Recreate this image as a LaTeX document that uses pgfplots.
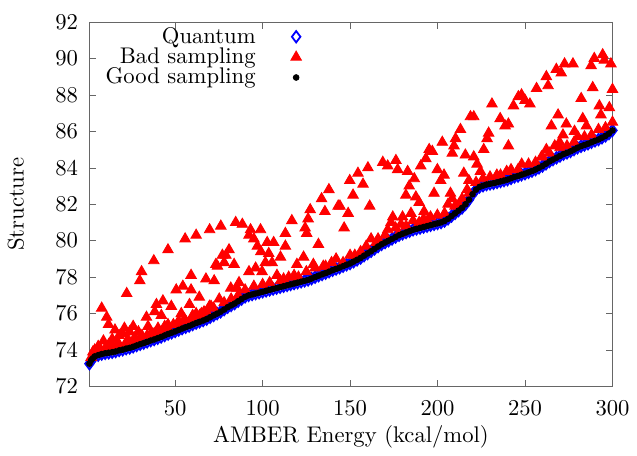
\documentclass[border=0pt]{standalone}
\usepackage{pgfplots}
\pgfplotsset{compat=1.18}
\usepackage{pgfplotstable}

% quantum / good sampling curve
\pgfplotstableread{
x y
1 73.25
2 73.45
3 73.55
4 73.65
6 73.72
8 73.78
10 73.82
12 73.85
14 73.88
16 73.92
18 73.98
20 74.02
22 74.08
24 74.12
26 74.18
28 74.25
30 74.32
32 74.38
34 74.45
36 74.52
38 74.58
40 74.65
42 74.72
44 74.80
46 74.88
48 74.95
50 75.02
52 75.10
54 75.18
56 75.25
58 75.32
60 75.40
62 75.48
64 75.55
66 75.62
68 75.70
70 75.80
72 75.90
74 76.00
76 76.10
78 76.22
80 76.35
82 76.45
84 76.55
86 76.68
88 76.80
90 76.92
92 77.00
94 77.05
96 77.10
98 77.15
100 77.20
102 77.25
104 77.30
106 77.35
108 77.40
110 77.45
112 77.50
114 77.55
116 77.60
118 77.65
120 77.70
122 77.75
124 77.80
126 77.85
128 77.92
130 78.00
132 78.08
134 78.15
136 78.22
138 78.30
140 78.38
142 78.45
144 78.52
146 78.60
148 78.68
150 78.75
152 78.85
154 78.95
156 79.05
158 79.18
160 79.30
162 79.42
164 79.55
166 79.68
168 79.80
170 79.90
172 80.00
174 80.10
176 80.20
178 80.30
180 80.38
182 80.45
184 80.52
186 80.60
188 80.65
190 80.70
192 80.75
194 80.80
196 80.85
198 80.90
200 80.95
202 81.00
204 81.08
206 81.20
208 81.35
210 81.50
212 81.65
214 81.80
216 82.00
218 82.25
220 82.55
222 82.80
224 82.95
226 83.02
228 83.08
230 83.12
232 83.15
234 83.20
236 83.25
238 83.30
240 83.35
242 83.42
244 83.50
246 83.55
248 83.62
250 83.68
252 83.75
254 83.82
256 83.90
258 84.00
260 84.10
262 84.22
264 84.35
266 84.45
268 84.55
270 84.65
272 84.75
274 84.82
276 84.90
278 85.00
280 85.10
282 85.18
284 85.25
286 85.32
288 85.40
290 85.48
292 85.55
294 85.65
296 85.75
298 85.88
300 86.05
}\quantum

\pgfplotstableread{
x y
2 73.6
3 73.9
4 74.0
5 73.8
6 74.2
7 74.1
8 76.3
9 74.5
10.9 75.8
11.9 75.4
12 74.3
14 74.6
15.6 75.1
17 74.4
18 74.8
20 74.9
21 75.2
22.3 77.1
23 74.6
24 75.0
26 75.3
27 74.7
29 75.0
29.8 77.8
30.8 78.3
31 74.8
33.6 75.8
34.5 75.3
36 74.9
37.8 78.9
38.3 76.1
39.3 76.5
40.2 75.2
42.1 75.9
43 76.7
44 75.3
45.9 79.5
45.9 75.4
47.8 76.4
49 75.4
50.6 77.3
52 75.6
53.5 76.0
54.4 77.5
55.3 75.7
55.7 80.1
58.2 76.5
59.1 78.1
59.1 77.3
60 75.9
62 80.3
62 76.0
63.8 76.9
65 76.0
66.5 76.1
67.6 77.9
69.6 76.4
69.7 80.6
70.5 76.4
72.3 77.8
73.3 78.7
74.2 78.6
75.2 76.8
76.1 80.8
77 79.2
78 78.8
79 79.2
80.8 79.5
81.8 77.4
83.7 78.7
84.6 81.0
85.4 77.4
86.5 77.7
88.4 80.9
92.2 80.3
92.2 78.3
93.1 80.6
95 80.1
96 78.5
97 79.7
98.8 80.6
99 79.4
99.7 78.3
101.6 78.8
102.6 79.9
103.5 79.3
105.4 78.8
106.3 79.9
108.2 78.1
110.2 79.1
110.2 77.8
113 80.4
113 79.7
114.9 78.0
116.7 81.1
119.6 78.7
120.5 78.0
123.4 79.1
124.3 80.7
125.2 80.4
126 81.2
127.2 81.7
129 78.7
131.9 79.8
133.7 82.3
134.7 78.6
135.6 81.6
137.9 82.8
139.4 78.8
143.2 81.9
144.2 81.9
146 78.8
146.6 80.7
148.9 81.5
149.8 83.3
151.7 82.5
152.7 79.2
154.5 83.7
157.4 83.1
159.2 79.7
160.2 84.0
161.2 81.9
162 80.1
164.9 79.9
168.7 84.3
171.5 84.1
171.5 80.6
173.4 81.0
174.4 81.3
176.2 84.4
177.2 83.9
177.8 80.4
179.1 80.9
180 81.3
181.9 82.5
182.9 83.8
183.8 83.0
184.8 81.5
186.7 83.4
187.6 82.4
189.5 82.1
189.5 81.0
190.4 84.1
192.3 81.6
193.3 84.5
194.2 81.1
195.2 85.0
197 84.9
198 82.6
199.9 83.9
199.9 81.4
201.8 83.3
202.7 85.4
203.7 83.6
207.4 82.6
208.4 82.3
208.4 84.8
209.4 85.2
210.3 85.6
212.2 82.0
213.1 86.1
215 83.7
215.9 84.7
216.9 82.8
217.9 83.3
218.8 86.8
220.7 86.8
220.7 84.6
222.6 84.2
224.5 83.8
226.4 85.0
228.3 85.6
229.2 85.9
231.1 87.5
233.9 83.6
235.8 86.7
238.6 86.3
239.5 83.8
240.5 86.4
240.5 85.2
243.4 87.4
246.2 87.9
248 88.0
248.1 84.2
250 87.7
252.8 87.5
256.6 88.35
259.4 84.6
262.2 89.0
262.2 85.0
263.2 88.5
265.1 86.3
267 85.2
267.9 89.4
268.9 86.9
269.8 85.4
270.7 89.2
271.7 85.8
272.6 89.7
273.6 86.4
277.4 89.7
278.3 86.0
280.2 85.7
282.1 87.8
283 86.7
285.1 86.3
287.8 89.6
288.7 88.4
289.6 90.0
292.5 87.4
293.4 86.9
294.4 90.2
295.3 89.9
298.2 87.3
299.1 89.7
300 88.3
10 74.1
14 74.2
18 74.3
22 74.4
26 74.5
30 74.6
34 74.8
38 74.9
42 75.0
46 75.2
52 75.4
56 75.6
60 75.7
64 75.9
68 76.1
72 76.3
78 76.6
82 76.8
86 77.0
90 77.3
95 77.5
100 77.6
104 77.7
112 77.9
118 78.1
125 78.3
130 78.5
136 78.6
142 79.0
150 79.2
156 79.4
166 80.1
170 80.3
176 80.7
182 80.8
186 81.1
192 81.2
196 81.3
204 81.5
206 82.0
210 81.9
214 82.3
218 82.6
222 83.2
226 83.4
230 83.5
236 83.6
242 83.9
246 83.9
252 84.2
256 84.3
260 84.6
264 84.8
270 85.1
274 85.2
278 85.4
284 85.7
288 85.8
292 86.1
296 86.2
300 86.5
}\bad

\begin{document}
\begin{tikzpicture}
\begin{axis}[
  scale only axis,
  width=231pt,
  height=161pt,
  xmin=1, xmax=300,
  ymin=72, ymax=92,
  xtick={50,100,...,300},
  ytick={72,74,...,92},
  axis line style={black!60},
  major tick style={black!60},
  major tick length=3pt,
  xlabel={AMBER Energy (kcal/mol)},
  ylabel={Structure},
  yticklabel style={xshift=-1.5pt},
  xticklabel style={yshift=-3pt},
  xlabel style={yshift=2.5pt},
  ylabel style={yshift=7pt},
  clip=false,
  legend plot pos=right,
  legend cell align=right,
  legend style={at={(0.419,1.012)}, anchor=north east, draw=none, fill=none,
    row sep=-3.5pt, column sep=13.6pt},
]
\addplot[only marks, mark=diamond, mark size=2.5pt, blue, mark options={line width=0.8pt}] table {\quantum};
\addplot[only marks, mark=triangle*, mark size=2.65pt, red] table {\bad};
\addplot[only marks, mark=*, mark size=1.25pt, black] table {\quantum};
\legend{Quantum, Bad sampling, Good sampling}
\end{axis}
% margins round the axis, as in the reference
\path ([xshift=-37pt,yshift=-27.3pt]current axis.south west)
      ([xshift=8.7pt,yshift=9.7pt]current axis.north east);
\end{tikzpicture}
\end{document}
